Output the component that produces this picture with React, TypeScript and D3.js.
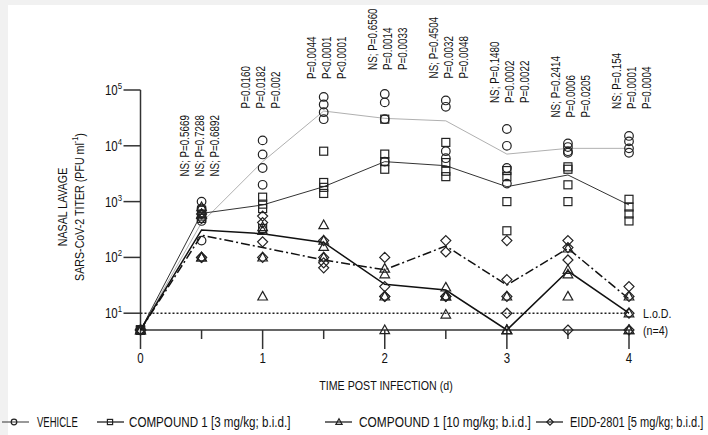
import React from 'react';
import * as d3 from 'd3';

// Sampling times (days post infection)
const days = [0, 0.5, 1, 1.5, 2, 2.5, 3, 3.5, 4];

// Individual animal titers (PFU/ml), four animals per time point
const vehicleTiters = [
  [5, 5, 5, 5],
  [1000, 750, 450, 200],
  [12500, 7000, 4000, 2000],
  [75000, 55000, 40000, 30000],
  [85000, 60000, 30000, 5200],
  [65000, 50000, 8000, 6000],
  [20000, 10000, 4000, 2100],
  [11000, 9500, 8000, 7500],
  [15000, 12000, 9000, 7500],
];
const compound3Titers = [
  [5, 5, 5, 5],
  [700, 600, 550, 500],
  [1200, 900, 750, 330],
  [8000, 2200, 1800, 1400],
  [30000, 7100, 5200, 3800],
  [11500, 5000, 3500, 2800],
  [3600, 2800, 1000, 300],
  [4200, 3800, 2000, 1000],
  [1100, 800, 600, 450],
];
const compound10Titers = [
  [5, 5, 5, 5],
  [800, 600, 100, 100],
  [350, 300, 100, 20],
  [380, 200, 155, 100],
  [63, 50, 20, 5],
  [29, 20, 20, 9.5],
  [20, 5, 5, 5],
  [145, 60, 50, 20],
  [20, 10, 5, 5],
];
const eiddTiters = [
  [5, 5, 5, 5],
  [600, 500, 100, 100],
  [550, 420, 190, 100],
  [200, 100, 80, 65],
  [100, 30, 20, 20],
  [200, 125, 20, 20],
  [200, 40, 20, 10],
  [200, 150, 90, 5],
  [30, 20, 10, 5],
];

// Group means connecting the time points
const vehicleMean = [5, 420, 5200, 42000, 31000, 28000, 7100, 9000, 9000];
const compound3Mean = [5, 615, 870, 1850, 5200, 4400, 1850, 3000, 870];
const compound10Mean = [5, 310, 265, 185, 33, 26, 5, 57, 10];
const eiddMean = [5, 250, 150, 90, 60, 160, 32, 145, 18];

// Statistical comparisons above each time point
const statDays = [0.5, 1, 1.5, 2, 2.5, 3, 3.5, 4];
const statLabels = [
  ['NS; P=0.5669', 'NS; P=0.7288', 'NS; P=0.6892'],
  ['P=0.0160', 'P=0.0182', 'P=0.002'],
  ['P=0.0044', 'P<0.0001', 'P<0.0001'],
  ['NS; P=0.6560', 'P=0.0014', 'P=0.0033'],
  ['NS; P=0.4504', 'P=0.0032', 'P=0.0048'],
  ['NS; P=0.1480', 'P=0.0002', 'P=0.0022'],
  ['NS; P=0.2414', 'P=0.0006', 'P=0.0205'],
  ['NS; P=0.154', 'P=0.0001', 'P=0.0004'],
];

const xTicks = [0, 1, 2, 3, 4];
const xMinorTicks = [0.5, 1.5, 2.5, 3.5];
const yTickExponents = [1, 2, 3, 4, 5];
const limitOfDetection = 10;
const baselineTiter = 5;

const seriesNames = [
  'VEHICLE',
  'COMPOUND 1 [3 mg/kg; b.i.d.]',
  'COMPOUND 1 [10 mg/kg; b.i.d.]',
  'EIDD-2801 [5 mg/kg; b.i.d.]',
];

const W = 708;
const H = 435;
const FONT = "'Liberation Sans', Arial, sans-serif";
const NARROW = 0.82;
const INK = '#222';

const x = d3.scaleLinear().domain([0, 4]).range([140.5, 629]);
const y = d3.scaleLog().domain([baselineTiter, 1e5]).range([330, 90]);

type Shape = 'circle' | 'square' | 'triangle' | 'diamond';

function Marker({ shape, cx, cy, s = 1 }: { shape: Shape; cx: number; cy: number; s?: number }) {
  const common = { fill: 'none', stroke: INK, strokeWidth: 1.2 };
  if (shape === 'circle') return <circle cx={cx} cy={cy} r={4.3 * s} {...common} />;
  if (shape === 'square')
    return <rect x={cx - 4 * s} y={cy - 4 * s} width={8 * s} height={8 * s} {...common} />;
  if (shape === 'triangle')
    return (
      <path
        d={`M${cx},${cy - 5 * s}L${cx + 4.8 * s},${cy + 3.6 * s}L${cx - 4.8 * s},${cy + 3.6 * s}Z`}
        {...common}
      />
    );
  return (
    <path
      d={`M${cx},${cy - 5 * s}L${cx + 5 * s},${cy}L${cx},${cy + 5 * s}L${cx - 5 * s},${cy}Z`}
      {...common}
    />
  );
}

function NText({
  tx,
  ty,
  rotate = 0,
  size,
  anchor = 'start',
  baseline,
  sx = NARROW,
  children,
}: {
  tx: number;
  ty: number;
  rotate?: number;
  size: number;
  anchor?: string;
  baseline?: string;
  sx?: number;
  children: React.ReactNode;
}) {
  const t = `translate(${tx},${ty})${rotate ? ` rotate(${rotate})` : ''} scale(${sx},1)`;
  return (
    <text
      transform={t}
      fontSize={size}
      fontFamily={FONT}
      textAnchor={anchor}
      dominantBaseline={baseline}
      fill="#111"
    >
      {children}
    </text>
  );
}

export default function App() {
  const series = [
    { name: seriesNames[0], titers: vehicleTiters, mean: vehicleMean, shape: 'circle' as Shape, stroke: '#b0b0b0', width: 1, dash: undefined },
    { name: seriesNames[1], titers: compound3Titers, mean: compound3Mean, shape: 'square' as Shape, stroke: '#333', width: 1, dash: undefined },
    { name: seriesNames[2], titers: compound10Titers, mean: compound10Mean, shape: 'triangle' as Shape, stroke: '#111', width: 1.5, dash: undefined },
    { name: seriesNames[3], titers: eiddTiters, mean: eiddMean, shape: 'diamond' as Shape, stroke: '#111', width: 1.5, dash: '9,3,2,3' },
  ];

  const line = d3
    .line<number>()
    .x((_, i) => x(days[i]))
    .y((v) => y(v));

  const y0 = y(baselineTiter);

  // legend layout: [line start, marker, text start, horizontal squeeze]
  const legendSlots = [
    [2, 14, 37, 0.68],
    [97, 110, 129, 0.83],
    [325, 339, 359, 0.85],
    [536, 550, 570, 0.79],
  ];
  const legendY = 422;
  // vertical gap between the highest animal and the P-value block
  const statGaps = [25, 32, 18, 24, 22, 26, 26, 27];

  return (
    <svg
      width={W}
      height={H}
      style={{ position: 'absolute', left: 0, top: 0 }}
      xmlns="http://www.w3.org/2000/svg"
    >
      <rect x={0} y={0} width={W} height={H} fill="#f1f1f1" />
      <rect x={8} y={5} width={W - 8} height={H - 5} fill="#fff" />

      {/* y axis */}
      <line x1={x(0)} x2={x(0)} y1={y(1e5)} y2={y0} stroke="#333" strokeWidth={1.5} />
      {yTickExponents.map((e) => {
        const ty = y(Math.pow(10, e));
        return (
          <g key={e}>
            <line x1={x(0) - 17} x2={x(0)} y1={ty} y2={ty} stroke="#333" strokeWidth={1.5} />
            <NText tx={122} ty={ty + 5} size={14} anchor="end">
              10
              <tspan fontSize={9.5} dy={-6}>
                {e}
              </tspan>
            </NText>
          </g>
        );
      })}

      {/* x axis */}
      <line x1={x(0)} x2={x(4) + 3} y1={y0} y2={y0} stroke="#333" strokeWidth={1.5} />
      {xTicks.map((d) => (
        <g key={d}>
          <line x1={x(d)} x2={x(d)} y1={y0} y2={y0 + 19} stroke="#333" strokeWidth={1.5} />
          <NText tx={x(d)} ty={363} size={14} anchor="middle">
            {d}
          </NText>
        </g>
      ))}
      {xMinorTicks.map((d) => (
        <line key={d} x1={x(d)} x2={x(d)} y1={y0} y2={y0 + 9} stroke="#333" strokeWidth={1.5} />
      ))}

      {/* limit of detection */}
      <line
        x1={x(0)}
        x2={x(4)}
        y1={y(limitOfDetection)}
        y2={y(limitOfDetection)}
        stroke={INK}
        strokeWidth={1.5}
        strokeDasharray="2,2"
      />
      <NText tx={643} ty={y(limitOfDetection) + 5} size={13}>
        L.o.D.
      </NText>
      <NText tx={643} ty={y0 + 5} size={13}>
        (n=4)
      </NText>

      {/* group mean lines */}
      {series.map((s) => (
        <path
          key={s.name}
          d={line(s.mean) ?? ''}
          fill="none"
          stroke={s.stroke}
          strokeWidth={s.width}
          strokeDasharray={s.dash}
        />
      ))}

      {/* individual animals */}
      {series.map((s) =>
        s.titers.map((vals, i) =>
          vals.map((v, j) => (
            <Marker key={`${s.name}-${i}-${j}`} shape={s.shape} cx={x(days[i])} cy={y(v)} />
          ))
        )
      )}

      {/* P values */}
      {statDays.map((d, k) => {
        const top = d3.max(series.flatMap((s) => s.titers[days.indexOf(d)])) as number;
        const base = y(top) - statGaps[k];
        const shift = k < 2 ? -5 : 0;
        return statLabels[k].map((t, r) => (
          <NText
            key={`${d}-${r}`}
            tx={x(d) - 12 + shift + r * 15}
            ty={base}
            rotate={-90}
            size={12}
            baseline="central"
          >
            {t}
          </NText>
        ));
      })}

      {/* axis titles */}
      <NText tx={63} ty={207} rotate={-90} size={13} anchor="middle" baseline="central">
        NASAL LAVAGE
      </NText>
      <NText tx={80} ty={207} rotate={-90} size={13} anchor="middle" baseline="central">
        SARS-CoV-2 TITER (PFU ml
        <tspan fontSize={9} dy={-5}>
          -1
        </tspan>
        <tspan dy={5}>)</tspan>
      </NText>
      <NText tx={386} ty={390} size={13} anchor="middle">
        TIME POST INFECTION (d)
      </NText>

      {/* legend */}
      {series.map((s, i) => {
        const [l0, m, t0, sx] = legendSlots[i];
        return (
          <g key={s.name}>
            <line x1={l0} x2={l0 + 27} y1={legendY} y2={legendY} stroke={i === 0 ? '#555' : '#111'} strokeWidth={1.2} />
            <Marker shape={s.shape} cx={m} cy={legendY} s={0.65} />
            <NText tx={t0} ty={legendY + 5} size={14} sx={sx}>
              {s.name}
            </NText>
          </g>
        );
      })}
    </svg>
  );
}
